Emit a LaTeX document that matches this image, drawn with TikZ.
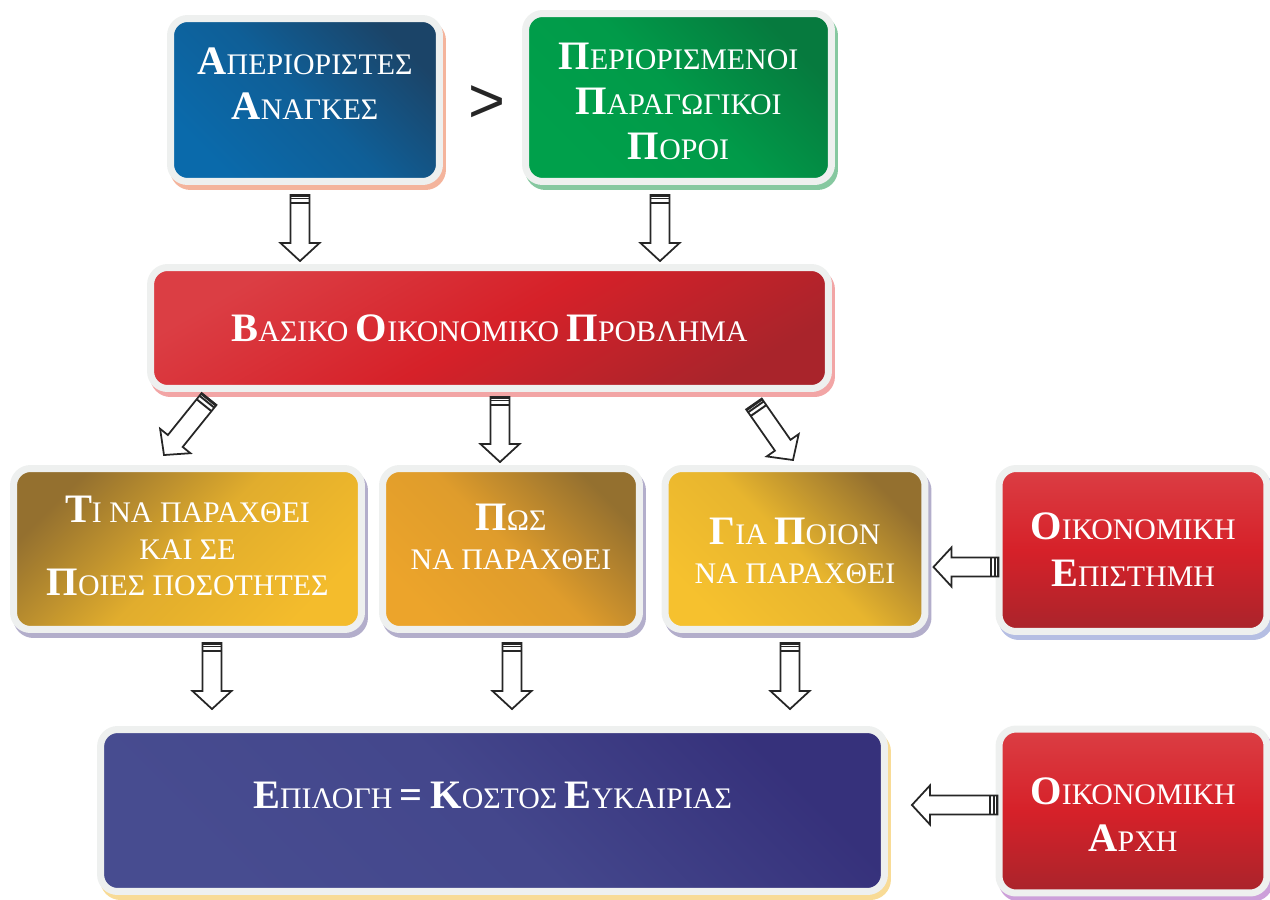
\documentclass[tikz,border=0pt]{standalone}
\usepackage{fontspec}
\setmainfont{Liberation Serif}
\newfontfamily\gtfont{Liberation Sans}
\usetikzlibrary{calc}

\definecolor{framegray}{HTML}{EEF0EF}
\definecolor{needsdark}{HTML}{1B4468}
\definecolor{needslight}{HTML}{0A6AAB}
\definecolor{resdark}{HTML}{067A3E}
\definecolor{reslight}{HTML}{00A04B}
\definecolor{redlight}{HTML}{DB3E44}
\definecolor{redmid}{HTML}{D62129}
\definecolor{reddark}{HTML}{A9242B}
\definecolor{golddark}{HTML}{94702F}
\definecolor{goldbright}{HTML}{F4BC2C}
\definecolor{goldorange}{HTML}{ECA42B}
\definecolor{goldyellow}{HTML}{F6C12E}
\definecolor{purpdark}{HTML}{36317B}
\definecolor{purplight}{HTML}{474C90}
\definecolor{shsalmon}{HTML}{F4B49C}
\definecolor{shgreen}{HTML}{86C8A0}
\definecolor{shpink}{HTML}{F2A5A5}
\definecolor{shlav}{HTML}{B3AECB}
\definecolor{shblue}{HTML}{B5BEE3}
\definecolor{shyellow}{HTML}{F8DB96}
\definecolor{shviolet}{HTML}{CDA0DA}

\newcommand{\ini}[1]{{\fontsize{23}{26}\selectfont\bfseries #1}}

% hollow block arrow from #1 to #2, striped tail
\newcommand{\fatarrow}[2]{%
  \coordinate (#1-n) at ($(#2)!0.36cm!(#1)$);
  \draw[fatarrow] ($(#1)!0.19cm!90:(#2)$) -- ($(#1-n)!0.19cm!90:(#2)$)
    -- ($(#1-n)!0.39cm!90:(#2)$) -- (#2) -- ($(#1-n)!0.39cm!-90:(#2)$)
    -- ($(#1-n)!0.19cm!-90:(#2)$) -- ($(#1)!0.19cm!-90:(#2)$) -- cycle;
  \foreach \s in {0.02cm,0.07cm,0.16cm}{
    \coordinate (#1-s) at ($(#1)!\s!(#2)$);
    \draw[fatstripe] ($(#1-s)!0.19cm!90:(#2)$) -- ($(#1-s)!0.19cm!-90:(#2)$);
  }
}

\begin{document}
\begin{tikzpicture}[x=0.02cm,y=-0.02cm,
  box/.style={draw=framegray,line width=0.14cm,rounded corners=0.34cm,inner sep=0pt},
  boxshadow/.style={preaction={draw=#1,fill=#1,transform canvas={xshift=0.06cm,yshift=-0.1cm}}},
  txt/.style={text=white,align=center,inner sep=0pt,font=\fontsize{17}{#1}\selectfont},
  fatarrow/.style={draw=black!85,line width=1pt,fill=white,line join=miter},
  fatstripe/.style={draw=black!85,line width=1.1pt}]
  \useasboundingbox (0,0) rectangle (1270,899);

  \node[box,boxshadow=shsalmon,top color=needsdark,bottom color=needslight,middle color=needslight!70!needsdark,shading angle=-45,
    minimum width=5.38cm,minimum height=3.26cm] (needs) at (305,100) {};
  \node[box,boxshadow=shgreen,top color=resdark,bottom color=reslight,middle color=reslight!85!resdark,shading angle=-45,
    minimum width=6.12cm,minimum height=3.36cm] (resources) at (678.5,97.5) {};
  \node[box,boxshadow=shpink,top color=redlight,bottom color=reddark,middle color=redmid,shading angle=30,
    minimum width=13.56cm,minimum height=2.42cm] (problem) at (489.5,328) {};
  \node[box,boxshadow=shlav,top color=golddark,bottom color=goldbright,middle color=goldbright!80!golddark,shading angle=45,
    minimum width=6.96cm,minimum height=3.22cm] (what) at (187.5,549) {};
  \node[box,boxshadow=shlav,top color=golddark,bottom color=goldorange,middle color=goldorange!85!golddark,shading angle=-45,
    minimum width=5.14cm,minimum height=3.22cm] (how) at (511,549) {};
  \node[box,boxshadow=shlav,top color=golddark,bottom color=goldyellow,middle color=goldyellow!85!golddark,shading angle=-45,
    minimum width=5.2cm,minimum height=3.22cm] (whom) at (795,549) {};
  \node[box,boxshadow=shblue,top color=redlight,bottom color=reddark,middle color=redmid,
    minimum width=5.36cm,minimum height=3.26cm] (science) at (1133,550) {};
  \node[box,boxshadow=shyellow,top color=purpdark,bottom color=purplight,middle color=purplight!80!purpdark,shading angle=-45,
    minimum width=15.68cm,minimum height=3.24cm] (choice) at (492.5,810.5) {};
  \node[box,boxshadow=shviolet,top color=redlight,bottom color=reddark,middle color=redmid,
    minimum width=5.36cm,minimum height=3.28cm] (principle) at (1133,811) {};

  \node[txt=25.6pt] (needs-t) at ($(needs)+(0,-16)$) {\ini{Α}ΠΕΡΙΟΡΙΣΤΕΣ\\\ini{Α}ΝΑΓΚΕΣ};
  \node[txt=25.6pt] (resources-t) at ($(resources)+(0,4)$) {\ini{Π}ΕΡΙΟΡΙΣΜΕΝΟΙ\\\ini{Π}ΑΡΑΓΩΓΙΚΟΙ\\\ini{Π}ΟΡΟΙ};
  \node[txt=25.6pt] (problem-t) at (problem) {\ini{Β}ΑΣΙΚΟ \ini{Ο}ΙΚΟΝΟΜΙΚΟ \ini{Π}ΡΟΒΛΗΜΑ};
  \node[txt=21pt] (what-t) at ($(what)+(0,-3)$) {\ini{Τ}Ι ΝΑ ΠΑΡΑΧΘΕΙ\\ΚΑΙ ΣΕ\\\ini{Π}ΟΙΕΣ ΠΟΣΟΤΗΤΕΣ};
  \node[txt=22.2pt] (how-t) at ($(how)+(0,-12)$) {\ini{Π}ΩΣ\\ΝΑ ΠΑΡΑΧΘΕΙ};
  \node[txt=22.2pt] (whom-t) at ($(whom)+(0,2)$) {\ini{Γ}ΙΑ \ini{Π}ΟΙΟΝ\\ΝΑ ΠΑΡΑΧΘΕΙ};
  \node[txt=26.7pt] (science-t) at (science) {\ini{Ο}ΙΚΟΝΟΜΙΚΗ\\\ini{Ε}ΠΙΣΤΗΜΗ};
  \node[txt=25.6pt] (choice-t) at ($(choice)+(0,-15)$) {\ini{Ε}ΠΙΛΟΓΗ \ini{=} \ini{Κ}ΟΣΤΟΣ \ini{Ε}ΥΚΑΙΡΙΑΣ};
  \node[txt=26.7pt] (principle-t) at ($(principle)+(0,4)$) {\ini{Ο}ΙΚΟΝΟΜΙΚΗ\\\ini{Α}ΡΧΗ};

  \node[text=black!85,inner sep=0pt] (gt) at (487,104) {\gtfont\fontsize{36}{36}\selectfont >};

  \coordinate (a1) at ($(needs.south)+(-5,10)$);
  \coordinate (b1) at ($(a1|-problem.north)+(0,-3)$);
  \coordinate (a2) at ($(resources.south)+(-18.5,10)$);
  \coordinate (b2) at ($(a2|-problem.north)+(0,-3)$);
  \coordinate (a3) at ($(problem.south west)+(62,7)$);
  \coordinate (b3) at ($(what.north)+(-23.5,-10)$);
  \coordinate (a4) at ($(problem.south)+(10.5,5)$);
  \coordinate (b4) at ($(a4|-how.north)+(0,-3)$);
  \coordinate (a5) at ($(problem.south east)+(-78,12)$);
  \coordinate (b5) at ($(whom.north)+(-2,-5)$);
  \coordinate (a6) at ($(what.south)+(24.5,10)$);
  \coordinate (b6) at ($(a6|-choice.north)+(0,-17)$);
  \coordinate (a7) at ($(how.south)+(1,10)$);
  \coordinate (b7) at ($(a7|-choice.north)+(0,-17)$);
  \coordinate (a8) at ($(whom.south)+(-5,10)$);
  \coordinate (b8) at ($(a8|-choice.north)+(0,-17)$);
  \coordinate (a9) at ($(science.west)+(3,17)$);
  \coordinate (b9) at ($(a9-|whom.east)+(5,0)$);
  \coordinate (a10) at ($(principle.west)+(2,-6)$);
  \coordinate (b10) at ($(a10-|choice.east)+(24,0)$);

  \foreach \i in {1,...,10}{
    \fatarrow{a\i}{b\i}
  }
\end{tikzpicture}
\end{document}
